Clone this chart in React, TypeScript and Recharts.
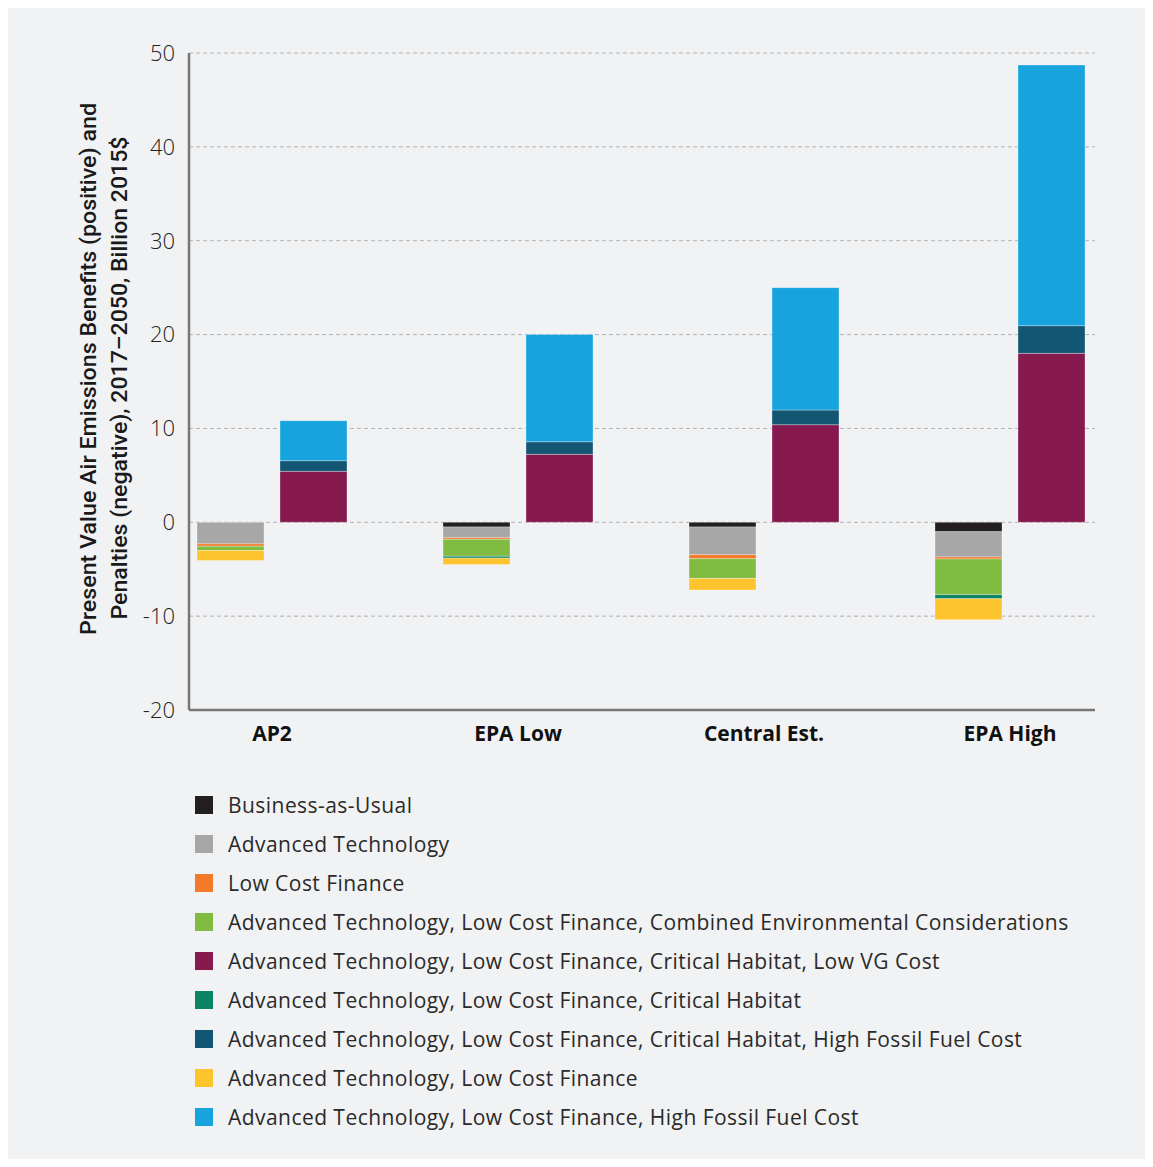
import { Bar, BarChart, CartesianGrid, Label, XAxis, YAxis } from 'recharts';

const categories = ['AP2', 'EPA Low', 'Central Est.', 'EPA High'];

// penalties (negative stack)
const businessAsUsual = [0, -0.5, -0.5, -1.0];
const advancedTech = [-2.3, -1.15, -2.95, -2.7];
const lowCostFinance = [-0.25, -0.17, -0.43, -0.21];
const combinedEnv = [-0.45, -1.8, -2.1, -3.8];
const criticalHabitat = [0, -0.2, 0, -0.43];
const atLowCost = [-1.07, -0.68, -1.24, -2.24];

// benefits (positive stack)
const lowVgCost = [5.43, 7.24, 10.4, 18.0];
const highFossil = [1.13, 1.34, 1.56, 2.95];
const atLowCostHighFossil = [4.26, 11.44, 13.04, 27.77];

const yTicks = [-20, -10, 0, 10, 20, 30, 40, 50];

const series = [
  { key: 'bau', name: 'Business-as-Usual', color: '#231f20', stack: 'neg', values: businessAsUsual },
  { key: 'at', name: 'Advanced Technology', color: '#a7a7a7', stack: 'neg', values: advancedTech },
  { key: 'lcf', name: 'Low Cost Finance', color: '#f37a29', stack: 'neg', values: lowCostFinance },
  { key: 'env', name: 'Advanced Technology, Low Cost Finance, Combined Environmental Considerations', color: '#80bc41', stack: 'neg', values: combinedEnv },
  { key: 'vg', name: 'Advanced Technology, Low Cost Finance, Critical Habitat, Low VG Cost', color: '#861a4f', stack: 'pos', values: lowVgCost },
  { key: 'ch', name: 'Advanced Technology, Low Cost Finance, Critical Habitat', color: '#0a8465', stack: 'neg', values: criticalHabitat },
  { key: 'hf', name: 'Advanced Technology, Low Cost Finance, Critical Habitat, High Fossil Fuel Cost', color: '#135674', stack: 'pos', values: highFossil },
  { key: 'atlcf', name: 'Advanced Technology, Low Cost Finance', color: '#fec42d', stack: 'neg', values: atLowCost },
  { key: 'atlcfhf', name: 'Advanced Technology, Low Cost Finance, High Fossil Fuel Cost', color: '#17a4de', stack: 'pos', values: atLowCostHighFossil },
];

// drawing order inside each stack (nearest zero first)
const stackOrder = ['bau', 'at', 'lcf', 'env', 'ch', 'atlcf', 'vg', 'hf', 'atlcfhf'];

const data = categories.map((name, i) => {
  const row: Record<string, string | number> = { name };
  series.forEach((s) => {
    row[s.key] = s.values[i];
  });
  return row;
});

const font = "'Open Sans', 'Noto Sans', sans-serif";

const YTitle = () => (
  <g fill="#1a1a1a" fontFamily="'Roboto', sans-serif" fontSize={22} fontWeight={500}>
    <text
      x={80}
      y={361}
      transform="rotate(-90, 80, 361)"
      textAnchor="middle"
      dominantBaseline="central"
      textLength={532}
      lengthAdjust="spacingAndGlyphs"
    >
      Present Value Air Emissions Benefits (positive) and
    </text>
    <text
      x={111}
      y={370}
      transform="rotate(-90, 111, 370)"
      textAnchor="middle"
      dominantBaseline="central"
      textLength={483}
      lengthAdjust="spacingAndGlyphs"
    >
      Penalties (negative), 2017–2050, Billion 2015$
    </text>
  </g>
);

const App = () => {
  return (
    <div style={{ width: 1137, height: 1151, background: '#f1f2f4', position: 'relative', fontFamily: font }}>
      <BarChart
        width={1137}
        height={760}
        data={data}
        margin={{ top: 45, right: 50, left: 101, bottom: 8 }}
        barSize={67}
        barGap={16}
      >
        <CartesianGrid vertical={false} stroke="#b3b3b3" strokeDasharray="4 3" />
        <XAxis
          dataKey="name"
          height={50}
          padding={{ left: -40, right: -38 }}
          tickLine={false}
          tickMargin={10}
          axisLine={{ stroke: '#777777', strokeWidth: 2.5 }}
          tick={{ fill: '#111', fontSize: 21, fontWeight: 700, fontFamily: font }}
        />
        <YAxis
          width={80}
          domain={[-20, 50]}
          ticks={yTicks}
          interval={0}
          tickLine={false}
          tickMargin={8}
          axisLine={{ stroke: '#777777', strokeWidth: 2.5 }}
          tick={{ fill: '#222', fontSize: 22, fontFamily: font, fontWeight: 300 }}
        >
          <Label content={<YTitle />} />
        </YAxis>
        {stackOrder.map((k) => {
          const s = series.find((x) => x.key === k)!;
          return (
            <Bar
              key={s.key}
              dataKey={s.key}
              name={s.name}
              stackId={s.stack}
              fill={s.color}
              stroke="#ffffff"
              strokeOpacity={0.3}
              strokeWidth={1}
              isAnimationActive={false}
            />
          );
        })}
      </BarChart>
      <div style={{ position: 'absolute', left: 187, top: 777 }}>
        {series.map((s) => (
          <div key={s.key} style={{ display: 'flex', alignItems: 'center', height: 39 }}>
            <span style={{ width: 18, height: 18, background: s.color, display: 'inline-block', marginRight: 15 }} />
            <span style={{ fontSize: 21, color: '#2a2a2a', whiteSpace: 'nowrap', letterSpacing: 0.45 }}>{s.name}</span>
          </div>
        ))}
      </div>
    </div>
  );
};

export default App;
